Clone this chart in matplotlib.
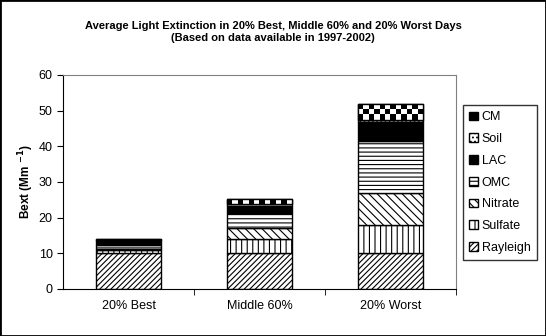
import numpy as np
import matplotlib
matplotlib.use('Agg')
import matplotlib.pyplot as plt
from matplotlib.patches import Patch, Rectangle

plt.rcParams['font.family'] = ['Liberation Sans', 'DejaVu Sans']
plt.rcParams['hatch.linewidth'] = 0.8

categories = ['20% Best', 'Middle 60%', '20% Worst']
species = ['Rayleigh', 'Sulfate', 'Nitrate', 'OMC', 'LAC', 'Soil', 'CM']
rayleigh = [10.0, 10.0, 10.0]
sulfate = [0.9, 4.0, 8.0]
nitrate = [0.3, 3.0, 9.0]
omc = [1.2, 4.2, 14.6]
lac = [1.1, 2.2, 5.3]
soil = [0.1, 0.3, 0.5]
cm = [0.4, 1.5, 4.5]

values = [rayleigh, sulfate, nitrate, omc, lac, soil, cm]
hatches = ['//////', '|||', '\\\\\\\\', '----', None, '....', None]
faces = ['white', 'white', 'white', 'white', 'black', 'white', 'white']

fig = plt.figure(figsize=(5.46, 3.36), dpi=100)
ax = fig.add_axes([0.1154, 0.1399, 0.7197, 0.6369])

x = np.arange(len(categories))
bottom = np.zeros(len(categories))
bars = {}
for name, vals, h, fc in zip(species, values, hatches, faces):
    bars[name] = ax.bar(x, vals, width=0.49, bottom=bottom, color=fc,
                        edgecolor='black', hatch=h, linewidth=1.0, zorder=2)
    bottom = bottom + np.array(vals)

# checkerboard fill for CM
for patch in bars['CM']:
    x0, y0 = patch.get_x(), patch.get_y()
    w, hgt = patch.get_width(), patch.get_height()
    nx = 12
    ny = max(1, int(round(hgt / w * nx * (ax.get_position().height * 336 / 60) /
                          (ax.get_position().width * 546 / 3))))
    board = (np.add.outer(np.arange(ny), np.arange(nx)) % 2).astype(float)
    im = ax.imshow(board, cmap='gray', extent=[x0, x0 + w, y0, y0 + hgt],
                   aspect='auto', interpolation='nearest', zorder=2.5,
                   origin='lower')
    im.set_clip_path(patch)
    ax.add_patch(Rectangle((x0, y0), w, hgt, fill=False, edgecolor='black',
                           linewidth=1.0, zorder=3))

ax.set_xlim(-0.5, 2.5)
ax.set_ylim(0, 60)
ax.set_yticks(range(0, 61, 10))
ax.set_xticks(x)
ax.set_xticklabels(categories, fontsize=9)
ax.set_xticks([0.5, 1.5, 2.5], minor=True)
ax.tick_params(axis='x', which='major', length=0, pad=8)
ax.tick_params(axis='x', which='minor', length=4, direction='out')
ax.tick_params(axis='y', labelsize=9, length=4, direction='out')

for side in ['top', 'right']:
    ax.spines[side].set_color('#808080')
ax.spines['left'].set_color('black')
ax.spines['bottom'].set_color('black')

ax.set_ylabel(r'Bext (Mm $^{\mathbf{-1}}$)', fontsize=8.5, fontweight='bold',
              labelpad=2)

fig.text(0.5, 0.905, 'Average Light Extinction in 20% Best, Middle 60% and 20% Worst Days\n'
         '(Based on data available in 1997-2002)', ha='center', va='center',
         fontsize=8, fontweight='bold', linespacing=1.3)

handles = []
for name, h, fc in zip(species, hatches, faces):
    if name == 'CM':
        handles.append(Patch(facecolor='black', edgecolor='black', hatch='++', label=name))
    else:
        handles.append(Patch(facecolor=fc, edgecolor='black', hatch=h, label=name))
leg = fig.legend(handles[::-1], species[::-1], loc='upper left',
                 bbox_to_anchor=(0.848, 0.6875), fontsize=9, frameon=True,
                 fancybox=False, edgecolor='black', handlelength=0.7,
                 handleheight=0.7, handletextpad=0.3, labelspacing=0.78,
                 borderpad=0.5, borderaxespad=0)
leg.get_frame().set_linewidth(1.0)

fig.patches.append(Rectangle((0, 0), 1, 1, transform=fig.transFigure,
                             fill=False, edgecolor='black', linewidth=2))

fig.savefig('out.png', dpi=100)
